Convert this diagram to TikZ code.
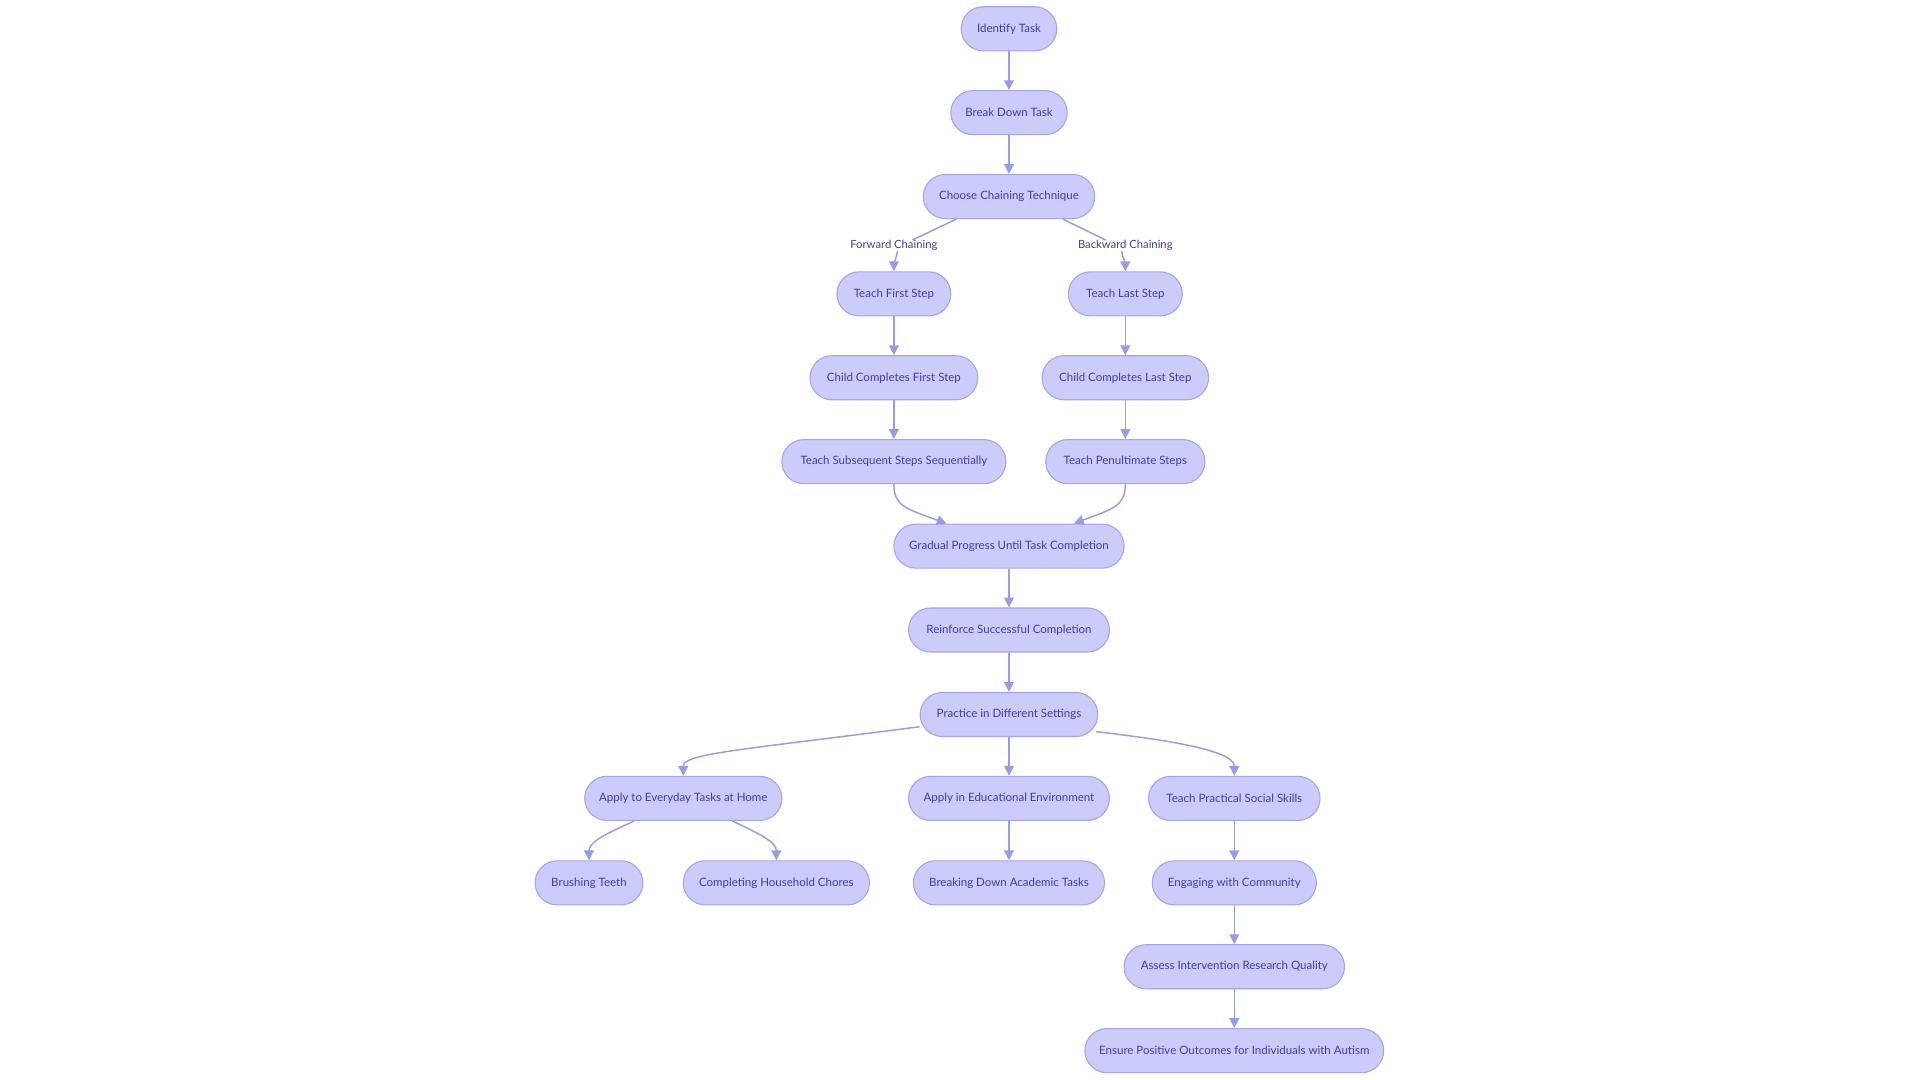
\documentclass[tikz,border=0pt]{standalone}
\usepackage{fontspec}
\setmainfont{Lato}
\usetikzlibrary{arrows.meta,calc}
\definecolor{nfill}{HTML}{CBCCFA}
\definecolor{ndraw}{HTML}{A3A5EE}
\definecolor{ntext}{HTML}{3D3DAA}
\definecolor{eline}{HTML}{989BE6}
\tikzset{
  box/.style={draw=ndraw, fill=nfill, line width=0.9pt, rounded corners=18pt,
    minimum height=36pt, inner sep=0pt, text=ntext,
    font=\fontsize{9.4pt}{11pt}\selectfont},
  elabel/.style={inner sep=0pt, text=ntext, font=\fontsize{9.2pt}{11pt}\selectfont},
  edge/.style={draw=eline, line width=1.2pt, -{Triangle[length=8pt,width=8pt]}},
  eplain/.style={draw=eline, line width=1.2pt}
}
\begin{document}
\begin{tikzpicture}[x=1pt,y=-1pt]
\useasboundingbox (0,0) rectangle (1568,882);
\node[box,minimum width=78pt]  (n1) at (824,23.5) {Identify Task};
\node[box,minimum width=95pt]  (n2) at (824,92) {Break Down Task};
\node[box,minimum width=140pt] (n3) at (824,160.5) {Choose Chaining Technique};
\node[box,minimum width=93pt]  (n4) at (730,240) {Teach First Step};
\node[box,minimum width=93pt]  (n5) at (919,240) {Teach Last Step};
\node[box,minimum width=137pt] (n6) at (730,308.5) {Child Completes First Step};
\node[box,minimum width=136pt] (n7) at (919,308.5) {Child Completes Last Step};
\node[box,minimum width=183pt] (n8) at (730,377) {Teach Subsequent Steps Sequentially};
\node[box,minimum width=130pt] (n9) at (919,377) {Teach Penultimate Steps};
\node[box,minimum width=188pt] (n10) at (824,446) {Gradual Progress Until Task Completion};
\node[box,minimum width=164pt] (n11) at (824,514.5) {Reinforce Successful Completion};
\node[box,minimum width=145pt] (n12) at (824,583.5) {Practice in Different Settings};
\node[box,minimum width=161pt] (n13) at (558,652) {Apply to Everyday Tasks at Home};
\node[box,minimum width=164pt] (n14) at (824,652) {Apply in Educational Environment};
\node[box,minimum width=140pt] (n15) at (1008,652) {Teach Practical Social Skills};
\node[box,minimum width=88pt]  (n16) at (481,721) {Brushing Teeth};
\node[box,minimum width=152pt] (n17) at (634,721) {Completing Household Chores};
\node[box,minimum width=156pt] (n18) at (824,721) {Breaking Down Academic Tasks};
\node[box,minimum width=134pt] (n19) at (1008,721) {Engaging with Community};
\node[box,minimum width=180pt] (n20) at (1008,789.5) {Assess Intervention Research Quality};
\node[box,minimum width=244pt] (n21) at (1008,858) {Ensure Positive Outcomes for Individuals with Autism};

\node[elabel] (lf) at (730,200.5) {Forward Chaining};
\node[elabel] (lb) at (919,200.5) {Backward Chaining};

\draw[edge] (n1) -- (n2);
\draw[edge] (n2) -- (n3);
\draw[eplain] ([xshift=-43pt]n3.south) -- ([xshift=15pt]lf.north);
\draw[edge] ([xshift=3pt]lf.south) to[out=-100,in=90] (n4.north);
\draw[eplain] ([xshift=44pt]n3.south) -- ([xshift=-16pt]lb.north);
\draw[edge] ([xshift=-3pt]lb.south) to[out=-80,in=90] (n5.north);
\draw[edge] (n4) -- (n6);
\draw[edge] (n5) -- (n7);
\draw[edge] (n6) -- (n8);
\draw[edge] (n7) -- (n9);
\draw[edge] (n8.south) .. controls ($(n8.south)+(0,18)$) and ($(n8.south)+(10,20)$) .. ([xshift=-51pt]n10.north);
\draw[edge] (n9.south) .. controls ($(n9.south)+(0,18)$) and ($(n9.south)+(-10,20)$) .. ([xshift=53pt]n10.north);
\draw[edge] (n10) -- (n11);
\draw[edge] (n11) -- (n12);
\draw[edge] ([yshift=-10pt]n12.west) .. controls (600,613) and ($(n13.north)+(0,-18)$) .. (n13.north);
\draw[edge] (n12) -- (n14);
\draw[edge] ([shift={(-2pt,-14pt)}]n12.east) .. controls (960,605) and ($(n15.north)+(0,-20)$) .. (n15.north);
\draw[edge] ([xshift=-40pt]n13.south) .. controls (490,683) and ($(n16.north)+(0,-14)$) .. (n16.north);
\draw[edge] ([xshift=40pt]n13.south) .. controls (625,683) and ($(n17.north)+(0,-14)$) .. (n17.north);
\draw[edge] (n14) -- (n18);
\draw[edge] (n15) -- (n19);
\draw[edge] (n19) -- (n20);
\draw[edge] (n20) -- (n21);
\end{tikzpicture}
\end{document}
